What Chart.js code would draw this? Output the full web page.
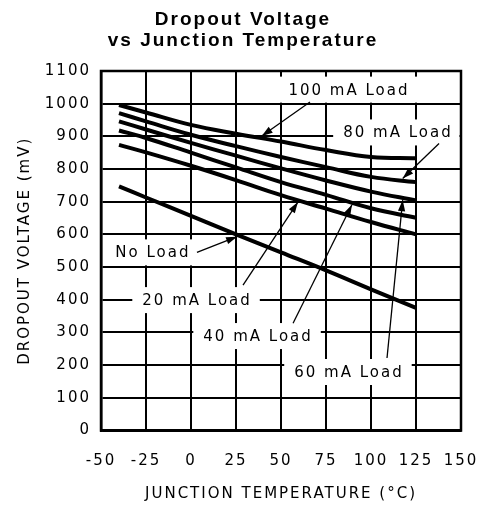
<!DOCTYPE html>
<html>
<head>
<meta charset="utf-8">
<script src="https://cdn.jsdelivr.net/npm/chart.js@4/dist/chart.umd.min.js"></script>
<style>
  html, body { margin: 0; padding: 0; background: #fff; }
</style>
</head>
<body>
<canvas id="chart" width="486" height="508"></canvas>
<script>
// junction temperature (°C) where the curves were read
const temps = [-40, -25, 0, 25, 50, 75, 100, 125];

// dropout voltage (mV) per load
const load100 = [996, 973, 935, 908, 884, 858, 837, 833];
const load80  = [971, 946, 905, 870, 837, 806, 776, 760];
const load60  = [946, 921, 880, 841, 802, 765, 731, 704];
const load40  = [918, 895, 850, 805, 760, 721, 680, 651];
const load20  = [874, 851, 810, 766, 720, 679, 638, 600];
const noLoad  = [747, 713, 657, 600, 545, 490, 432, 375];

const seriesNames = ['100 mA Load', '80 mA Load', '60 mA Load', '40 mA Load', '20 mA Load', 'No Load'];
const seriesValues = [load100, load80, load60, load40, load20, noLoad];

// callout labels (text centre in data units) and their arrows
const callouts = [
    { text: '100 mA Load', x: 87.2, y: 1043, from: [66.1, 1005], to: [39.3, 901] },
    { text: '80 mA Load',  x: 114.4, y: 912, from: [137.8, 878], to: [117.6, 771] },
    { text: '60 mA Load',  x: 87.2, y: 179,  from: [108.9, 222], to: [117.6, 705] },
    { text: '40 mA Load',  x: 36.7, y: 289,  from: [56.7, 328],  to: [89.4, 691] },
    { text: '20 mA Load',  x: 2.8,  y: 399,  from: [28.9, 445],  to: [59.4, 699] },
    { text: 'No Load',     x: -21.7, y: 545, from: [3.3, 545],   to: [25.6, 593] }
];

const tickFont = { family: '"DejaVu Sans"', size: 15 };

function arrowHead(ctx, x1, y1, x2, y2) {
    const a = Math.atan2(y2 - y1, x2 - x1);
    const len = 11, half = 3.6;
    ctx.beginPath();
    ctx.moveTo(x2, y2);
    ctx.lineTo(x2 - len * Math.cos(a) + half * Math.sin(a), y2 - len * Math.sin(a) - half * Math.cos(a));
    ctx.lineTo(x2 - len * Math.cos(a) - half * Math.sin(a), y2 - len * Math.sin(a) + half * Math.cos(a));
    ctx.closePath();
    ctx.fill();
}

const spacing = {
    id: 'spacing',
    beforeDraw(chart) {
        chart.ctx.letterSpacing = '2px';
    }
};

const calloutPlugin = {
    id: 'callouts',
    beforeDatasetsDraw(chart) {
        const { ctx, chartArea: area } = chart;
        const xs = chart.scales.x, ys = chart.scales.y;
        ctx.save();
        ctx.font = '15px "DejaVu Sans"';
        ctx.letterSpacing = '2px';
        ctx.textAlign = 'center';
        ctx.textBaseline = 'middle';
        callouts.forEach(c => {
            const cx = xs.getPixelForValue(c.x);
            const cy = ys.getPixelForValue(c.y);
            const w = ctx.measureText(c.text).width;
            const left = Math.max(area.left + 1.5, cx - w / 2 - 9);
            const right = Math.min(area.right - 1.5, cx + w / 2 + 9);
            const top = Math.max(area.top + 1.5, cy - 13);
            const bottom = Math.min(area.bottom - 1.5, cy + 13);
            ctx.fillStyle = '#fff';
            ctx.fillRect(left, top, right - left, bottom - top);
            ctx.fillStyle = '#000';
            ctx.fillText(c.text, cx + 1, cy + 1);
        });
        ctx.restore();
    },
    afterDatasetsDraw(chart) {
        const { ctx, chartArea: area } = chart;
        const xs = chart.scales.x, ys = chart.scales.y;
        ctx.save();
        ctx.strokeStyle = '#000';
        ctx.fillStyle = '#000';
        ctx.lineWidth = 1.3;
        callouts.forEach(c => {
            const x1 = xs.getPixelForValue(c.from[0]), y1 = ys.getPixelForValue(c.from[1]);
            const x2 = xs.getPixelForValue(c.to[0]), y2 = ys.getPixelForValue(c.to[1]);
            ctx.beginPath();
            ctx.moveTo(x1, y1);
            ctx.lineTo(x2, y2);
            ctx.stroke();
            arrowHead(ctx, x1, y1, x2, y2);
        });
        // frame round the plot
        ctx.lineWidth = 2.5;
        ctx.strokeRect(area.left, area.top, area.right - area.left, area.bottom - area.top);
        ctx.restore();
    }
};

new Chart(document.getElementById('chart'), {
    type: 'line',
    data: {
        datasets: seriesNames.map((name, i) => ({
            label: name,
            data: temps.map((t, j) => ({ x: t, y: seriesValues[i][j] })),
            borderColor: '#000',
            borderWidth: 4,
            pointRadius: 0,
            tension: 0.4,
            fill: false
        }))
    },
    options: {
        responsive: false,
        animation: false,
        layout: { padding: 0 },
        plugins: {
            legend: { display: false },
            tooltip: { enabled: false },
            title: {
                display: true,
                text: ['Dropout Voltage', 'vs Junction Temperature'],
                color: '#000',
                font: { family: '"Liberation Sans"', size: 19, weight: 'bold', lineHeight: 1.1 },
                padding: { top: 9.5, bottom: 19.7 }
            }
        },
        scales: {
            x: {
                type: 'linear',
                min: -50,
                max: 150,
                ticks: { stepSize: 25, color: '#000', font: tickFont, padding: 22, maxRotation: 0, callback: v => v },
                grid: { color: '#000', lineWidth: 2, drawTicks: false },
                border: { color: '#000', width: 2.5 },
                title: {
                    display: true,
                    text: 'JUNCTION TEMPERATURE (°C)',
                    color: '#000',
                    font: { family: '"DejaVu Sans"', size: 15 },
                    padding: { top: 0, bottom: 5 }
                },
                afterFit(scale) {
                    scale.height = 77.5;
                    scale.paddingLeft = 0;
                    scale.paddingRight = 25;
                }
            },
            y: {
                min: 0,
                max: 1100,
                ticks: { stepSize: 100, color: '#000', font: tickFont, padding: 10, callback: v => v },
                grid: { color: '#000', lineWidth: 2, drawTicks: false },
                border: { color: '#000', width: 2.5 },
                title: {
                    display: true,
                    text: 'DROPOUT VOLTAGE (mV)',
                    color: '#000',
                    font: { family: '"DejaVu Sans"', size: 15 },
                    padding: { top: 16, bottom: 0 }
                },
                afterFit(scale) { scale.width = 101; }
            }
        }
    },
    plugins: [spacing, calloutPlugin]
});
</script>
</body>
</html>
